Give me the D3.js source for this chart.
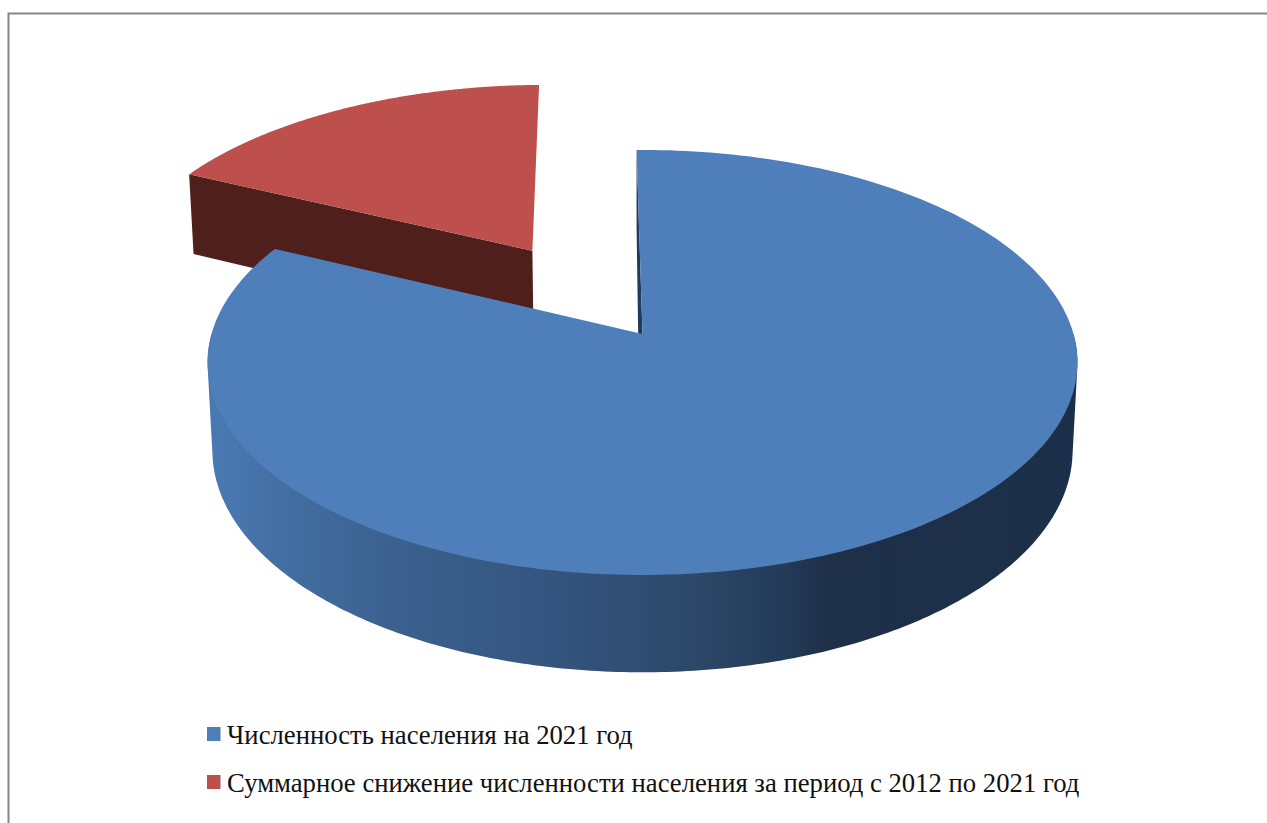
<!DOCTYPE html>
<html><head><meta charset="utf-8">
<script src="https://cdn.jsdelivr.net/npm/d3@7"></script>
<style>html,body{margin:0;padding:0;background:#fff;overflow:hidden}svg{display:block}</style>
</head><body><svg id="c" width="1267" height="823"></svg>
<script>
const categories = ["Численность населения на 2021 год", "Суммарное снижение численности населения за период с 2012 по 2021 год"];
const values = [82.35, 17.65];
const explode = [0, 0.5];
const topColors = ["#4e7fbb", "#bd4f4c"];
const wallColors = ["#1f3a5c", "#4f1f1c"];

const svg = d3.select("#c");
const start = -0.9 * Math.PI / 180;
const slices = d3.pie().sort(null).startAngle(start).endAngle(start + 2 * Math.PI)(values);

// perspective view of the pie plane
const view = {cx: 642.5, cy: 334, A: 431, B: 208.7, k: 0.134, D: 88, m: 0.011};
function project(u, v, low, dx) {
  const w = 1 + view.k * v + (low ? view.m : 0);
  return [view.cx + (dx || 0) + view.A * u / w, view.cy + (-view.B * v + (low ? view.D : 0)) / w];
}
const polar = (a, r, o) => [r * Math.sin(a) + o[0], r * Math.cos(a) + o[1]];
const offsetOf = (s, e) => { const mid = (s.startAngle + s.endAngle) / 2; return [e * Math.sin(mid), e * Math.cos(mid)]; };
const line = d3.line();
const arcPts = (a0, a1, o, low) => d3.range(0, 241).map(i => {
  const p = polar(a0 + (a1 - a0) * i / 240, 1, o); return project(p[0], p[1], low);
});

const defs = svg.append("defs");
const sideStops = [[213,"#4a79b2"],[300,"#426c9f"],[400,"#3b608d"],[550,"#34557f"],[700,"#2c4768"],[780,"#243b59"],[830,"#1e2f48"],[1075,"#1c2f4a"]];
const g = defs.append("linearGradient").attr("id", "side").attr("gradientUnits", "userSpaceOnUse")
  .attr("x1", 213).attr("x2", 1075).attr("y1", 0).attr("y2", 0);
const xn = d3.scaleLinear().domain([213, 1075]).range([0, 1]);
sideStops.forEach(d => g.append("stop").attr("offset", xn(d[0])).attr("stop-color", d[1]));

// border of the chart area
svg.append("path").attr("d", line([[8.5, 823], [8.5, 13.5], [1267, 13.5]]))
  .attr("fill", "none").attr("stroke", "#868686").attr("stroke-width", 2);

// red slice: the cut wall on its left is the only side that shows
(function () {
  const s = slices[1], o = offsetOf(s, explode[1]);
  const apexT = project(o[0], o[1]), apexL = project(o[0], o[1], true);
  const pA = polar(s.startAngle, 1, o);
  svg.append("path").attr("fill", wallColors[1]).attr("d", line([apexT, project(pA[0], pA[1]), project(pA[0], pA[1], true), apexL]) + "Z");
  svg.append("path").attr("fill", topColors[1]).attr("d", line([apexT, ...arcPts(s.startAngle, s.endAngle, o)]) + "Z");
})();

// blue slice
(function () {
  const s = slices[0], o = [0, 0];
  const apexT = project(0, 0);
  const pA = polar(s.startAngle, 1, o);
  // inner cut wall
  svg.append("path").attr("fill", wallColors[0]).attr("d", line([apexT, project(pA[0], pA[1]), project(pA[0], pA[1], true), project(0, 0, true, -3)]) + "Z");
  // outer front wall: hull of the upper and lower rims on the near half
  const a0 = Math.PI / 2, a1 = 3 * Math.PI / 2;
  const hull = d3.polygonHull([...arcPts(a0, a1, o), ...arcPts(a0, a1, o, true)]);
  svg.append("path").attr("fill", "url(#side)").attr("d", line(hull) + "Z");
  svg.append("path").attr("fill", topColors[0]).attr("d", line([apexT, ...arcPts(s.startAngle, s.endAngle, o)]) + "Z");
})();

// legend
const legendY = d3.scalePoint().domain(categories).range([734, 782]);
const lg = svg.append("g").selectAll("g").data(categories).join("g");
lg.append("rect").attr("x", 207).attr("y", d => legendY(d) - 7).attr("width", 13.5).attr("height", 14)
  .attr("fill", (d, i) => topColors[i]);
lg.append("text").attr("x", 227).attr("y", d => legendY(d) + 9.5).text(d => d)
  .attr("font-family", "'Liberation Serif'").attr("font-size", 26.7).attr("fill", "#111");
</script></body></html>
